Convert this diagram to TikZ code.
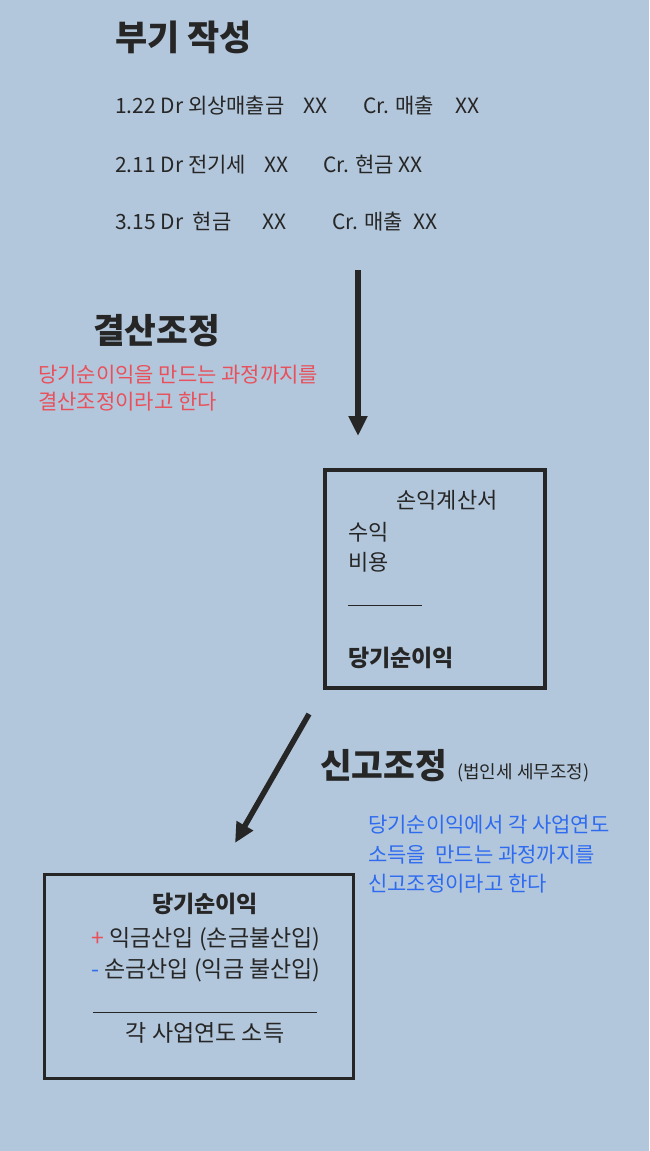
\documentclass[tikz,border=0pt]{standalone}
\usepackage{fontspec}
\setmainfont{Noto Sans CJK KR}
\usetikzlibrary{arrows.meta,positioning}
\definecolor{pagebg}{HTML}{B3C7DC}
\definecolor{ink}{HTML}{262626}
\definecolor{adjred}{HTML}{E8505B}
\definecolor{adjblue}{HTML}{2E6BEF}

\begin{document}
\begin{tikzpicture}[
  x=1pt, y=-1pt,
  txt/.style={anchor=base west, inner sep=0pt, text=ink, font=\fontsize{21}{25}\selectfont},
  ctxt/.style={txt, anchor=base, font=\fontsize{23}{27}\selectfont},
  head/.style={txt, font=\fontsize{34.5}{40}\selectfont\bfseries},
  note/.style={txt, font=\fontsize{21}{25}\selectfont},
  box/.style={draw=ink, line width=3.5pt, inner sep=0pt},
  arr/.style={-{Triangle[length=20pt,width=18pt]}, line width=5.5pt, ink}
]
\fill[pagebg] (0,0) rectangle (649,1151);
\useasboundingbox (0,0) rectangle (649,1151);

% journal entries
\node[head, font=\fontsize{35}{40}\selectfont\bfseries] (bookkeep) at (115,50) {부기 작성};
\node[txt] (dr1) at (115,113) {1.22 Dr 외상매출금};
\node[txt] (drxx1) at (303,113) {XX};
\node[txt] (cr1) at (363,113) {Cr. 매출};
\node[txt] (crxx1) at (455,113) {XX};
\node[txt] (dr2) at (115,172) {2.11 Dr 전기세};
\node[txt] (drxx2) at (264,172) {XX};
\node[txt] (cr2) at (323,172) {Cr. 현금 XX};
\node[txt] (dr3) at (115,229) {3.15 Dr\ \ 현금};
\node[txt] (drxx3) at (262,229) {XX};
\node[txt] (cr3) at (332,229) {Cr. 매출};
\node[txt] (crxx3) at (413,229) {XX};

% closing adjustment
\coordinate (closetop) at (358,270);
\coordinate (closeend) at (358,436);
\draw[arr] (closetop) -- (closeend);
\node[head] (closing) at (93,343) {결산조정};
\node[note, text=adjred] (closenote1) at (38,382) {당기순이익을 만드는 과정까지를};
\node[note, text=adjred] (closenote2) at (38,409) {결산조정이라고 한다};

% income statement
\node[box, minimum width=220pt, minimum height=218pt] (pl) at (435,579) {};
\node[ctxt, font=\fontsize{22}{26}\selectfont] (pltitle) at (447,508) {손익계산서};
\node[txt, font=\fontsize{22}{26}\selectfont] (revenue) at (348,540) {수익};
\node[txt, font=\fontsize{22}{26}\selectfont] (expense) at (348,570) {비용};
\node[txt] (plrule) at (348,606) {\rule{74pt}{1.3pt}};
\node[txt, font=\fontsize{23}{27}\selectfont\bfseries] (netincome) at (348,666) {당기순이익};

% tax adjustment
\coordinate (taxtop) at (309,714);
\coordinate (taxend) at (235,843);
\draw[arr] (taxtop) -- (taxend);
\node[head] (taxadj) at (320,778) {신고조정};
\node[txt, font=\fontsize{18}{21}\selectfont] (taxsub) at (457,778) {(법인세 세무조정)};
\node[note, text=adjblue] (taxnote1) at (368,832) {당기순이익에서 각 사업연도};
\node[note, text=adjblue] (taxnote2) at (368,862) {소득을\ \ 만드는 과정까지를};
\node[note, text=adjblue] (taxnote3) at (368,891) {신고조정이라고 한다};

% taxable income
\node[box, minimum width=309pt, minimum height=204pt] (taxable) at (199,976.5) {};
\node[ctxt, font=\fontsize{23}{27}\selectfont\bfseries] (ni2) at (205,912) {당기순이익};
\node[ctxt] (addback) at (206,946) {\textcolor{adjred}{+} 익금산입 (손금불산입)};
\node[ctxt] (deduct) at (206,977) {\textcolor{adjblue}{-} 손금산입 (익금 불산입)};
\node[ctxt] (taxrule) at (205,1013) {\rule{224pt}{1.2pt}};
\node[ctxt] (income) at (205,1041) {각 사업연도 소득};
\end{tikzpicture}
\end{document}
